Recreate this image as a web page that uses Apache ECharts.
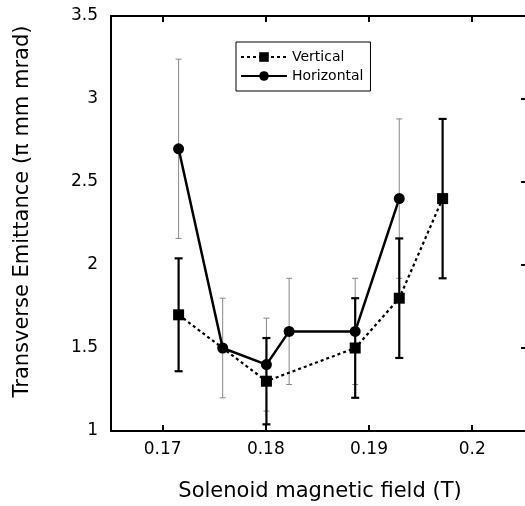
<!DOCTYPE html>
<html>
<head>
<meta charset="utf-8">
<script src="https://cdn.jsdelivr.net/npm/echarts@6/dist/echarts.min.js"></script>
<style>html,body{margin:0;padding:0;background:#fff}#c{width:525px;height:506px}</style>
</head>
<body>
<div id="c"></div>
<script>
// Horizontal emittance (circles, solid line, thin gray error bars)
const horizX = [0.17155, 0.17582, 0.18006, 0.18226, 0.18866, 0.19293];
const horizY = [2.7, 1.5, 1.4, 1.6, 1.6, 2.4];
const horizLow = [2.16, 1.2, 1.12, 1.28, 1.28, 1.92];
const horizHigh = [3.24, 1.8, 1.68, 1.92, 1.92, 2.88];
// Vertical emittance (squares, dotted line, black error bars)
const vertX = [0.17155, 0.18006, 0.18866, 0.19293, 0.19713];
const vertY = [1.7, 1.3, 1.5, 1.8, 2.4];
const vertLow = [1.36, 1.04, 1.2, 1.44, 1.92];
const vertHigh = [2.04, 1.56, 1.8, 2.16, 2.88];
// Tick labels
const xTicks = [0.17, 0.18, 0.19, 0.2];
const yRightTicks = [1.5, 2, 2.5, 3];

const FONT = 'DejaVu Sans';

function errSeries(xs, lo, hi, color, width, cap) {
  return {
    type: 'custom',
    silent: true,
    z: 1,
    data: xs.map((x, i) => [x, lo[i], hi[i]]),
    encode: { x: 0, y: [1, 2] },
    renderItem: function (params, api) {
      const x = api.value(0);
      const p1 = api.coord([x, api.value(1)]);
      const p2 = api.coord([x, api.value(2)]);
      const st = { stroke: color, lineWidth: width };
      return {
        type: 'group',
        children: [
          { type: 'line', shape: { x1: p1[0], y1: p1[1], x2: p2[0], y2: p2[1] }, style: st },
          { type: 'line', shape: { x1: p1[0] - cap, y1: p1[1], x2: p1[0] + cap, y2: p1[1] }, style: st },
          { type: 'line', shape: { x1: p2[0] - cap, y1: p2[1], x2: p2[0] + cap, y2: p2[1] }, style: st }
        ]
      };
    }
  };
}

const chart = echarts.init(document.getElementById('c'), null, { renderer: 'canvas' });
chart.setOption({
  animation: false,
  backgroundColor: '#fff',
  grid: { left: 111, top: 16, width: 418, height: 415, outerBoundsMode: 'none', containLabel: false },
  legend: {
    orient: 'vertical',
    left: 236, top: 42,
    data: ['Vertical', 'Horizontal'],
    borderColor: '#000', borderWidth: 1,
    padding: [8, 7, 8, 4],
    itemWidth: 46, itemHeight: 12, itemGap: 5,
    textStyle: { fontFamily: FONT, fontSize: 14, color: '#000' }
  },
  xAxis: [{
    type: 'value', position: 'bottom', min: 0.165, max: 0.2055,
    axisLine: { show: true, onZero: false, lineStyle: { color: '#000', width: 2 } },
    axisTick: { show: true, inside: true, length: 6, lineStyle: { width: 2, color: '#000' }, customValues: xTicks },
    axisLabel: { customValues: xTicks, color: '#000', fontFamily: FONT, fontSize: 17, margin: 10, formatter: v => String(v) },
    splitLine: { show: false },
    name: 'Solenoid magnetic field (T)', nameLocation: 'middle', nameGap: 50,
    nameTextStyle: { fontFamily: FONT, fontSize: 21, color: '#000' }
  }, {
    type: 'value', position: 'top', min: 0.165, max: 0.2055,
    axisLine: { show: true, onZero: false, lineStyle: { color: '#000', width: 2 } },
    axisTick: { show: true, inside: true, length: 6, lineStyle: { width: 2, color: '#000' }, customValues: xTicks },
    axisLabel: { show: false },
    splitLine: { show: false }
  }],
  yAxis: [{
    type: 'value', position: 'left', min: 1, max: 3.5, interval: 0.5,
    axisLine: { show: true, onZero: false, lineStyle: { color: '#000', width: 2 } },
    axisTick: { show: false },
    axisLabel: { color: '#000', fontFamily: FONT, fontSize: 17, margin: 13 },
    splitLine: { show: false },
    name: 'Transverse Emittance (\u03c0 mm mrad)', nameLocation: 'middle', nameGap: 78,
    nameTextStyle: { fontFamily: FONT, fontSize: 21, color: '#000', padding: [0, 0, 0, 24] }
  }, {
    type: 'value', position: 'right', min: 1, max: 3.5, interval: 0.5,
    axisLine: { show: true, onZero: false, lineStyle: { color: '#000', width: 2 } },
    axisTick: { show: true, inside: true, length: 8, lineStyle: { width: 2, color: '#000' }, customValues: yRightTicks },
    axisLabel: { show: false },
    splitLine: { show: false }
  }],
  series: [
    errSeries(horizX, horizLow, horizHigh, '#888', 1, 3),
    errSeries(vertX, vertLow, vertHigh, '#000', 2.2, 4),
    {
      name: 'Horizontal', type: 'line', z: 3,
      data: horizX.map((x, i) => [x, horizY[i]]),
      symbol: 'circle', symbolSize: 11,
      lineStyle: { color: '#000', width: 2.5 },
      itemStyle: { color: '#000' }
    },
    {
      name: 'Vertical', type: 'line', z: 4,
      data: vertX.map((x, i) => [x, vertY[i]]),
      symbol: 'rect', symbolSize: 11,
      lineStyle: { color: '#000', width: 2.2, type: [3, 3] },
      itemStyle: { color: '#000' }
    }
  ]
});
</script>
</body>
</html>
